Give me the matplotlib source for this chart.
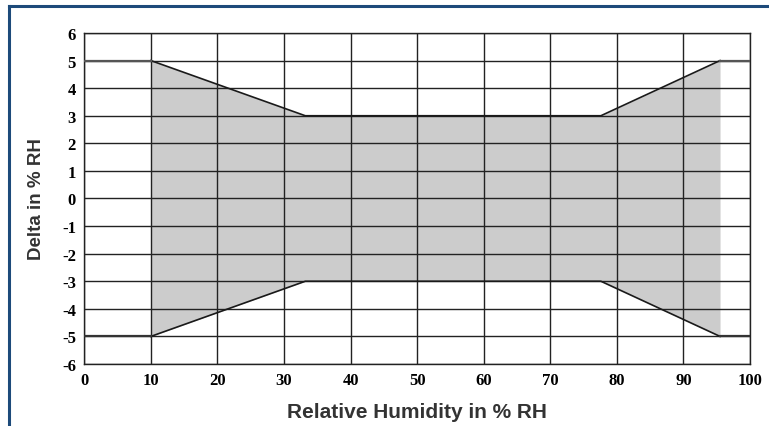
import matplotlib.pyplot as plt
from matplotlib.lines import Line2D

# Tolerance band (delta in % RH vs relative humidity)
band_x = [10, 33.2, 77.6, 95.5]
band_upper = [5, 3, 3, 5]
band_lower = [-5, -3, -3, -5]

# flat segments outside the band
outer_left_x = [0, 10]
outer_right_x = [95.5, 100]
outer_upper = [5, 5]
outer_lower = [-5, -5]

x_ticks = list(range(0, 101, 10))
y_ticks = list(range(-6, 7))
y_labels = [str(v) for v in y_ticks]  # plain hyphen minus like the original

fig = plt.figure(figsize=(7.69, 4.27), dpi=100)
ax = fig.add_axes([0.1096, 0.1452, 0.8657, 0.7752])

ax.fill_between(band_x, band_lower, band_upper, color='#cccccc', lw=0, zorder=1)
ax.plot(band_x, band_upper, color='#1a1a1a', lw=1.2, zorder=3)
ax.plot(band_x, band_lower, color='#1a1a1a', lw=1.2, zorder=3)
for xs in (outer_left_x, outer_right_x):
    ax.plot(xs, outer_upper, color='#555555', lw=1.6, zorder=3)
    ax.plot(xs, outer_lower, color='#333333', lw=1.6, zorder=3)

ax.set_xlim(0, 100)
ax.set_ylim(-6, 6)
ax.set_xticks(x_ticks)
ax.set_yticks(y_ticks, y_labels)
ax.grid(True, color='#222222', lw=1.0, zorder=2)
ax.set_axisbelow(False)
ax.tick_params(length=0, pad=6, labelsize=12)
for lbl in ax.get_xticklabels() + ax.get_yticklabels():
    lbl.set_family('Liberation Serif')
    lbl.set_fontweight('bold')
for s in ax.spines.values():
    s.set_color('#222222')
    s.set_linewidth(1.0)

ax.set_xlabel('Relative Humidity in % RH', family='Liberation Sans', fontweight='bold',
              fontsize=15, color='#333333', labelpad=10)
ax.set_ylabel('Delta in % RH', family='Liberation Sans', fontweight='bold',
              fontsize=13.5, color='#333333', labelpad=12)

# navy frame on top and left
fig.add_artist(Line2D([0.0115, 0.0115], [0, 0.984], transform=fig.transFigure,
                      color='#1d4a7a', lw=2.2))
fig.add_artist(Line2D([0.0115, 1], [0.984, 0.984], transform=fig.transFigure,
                      color='#1d4a7a', lw=2.2))

fig.savefig('out.png', dpi=100)
